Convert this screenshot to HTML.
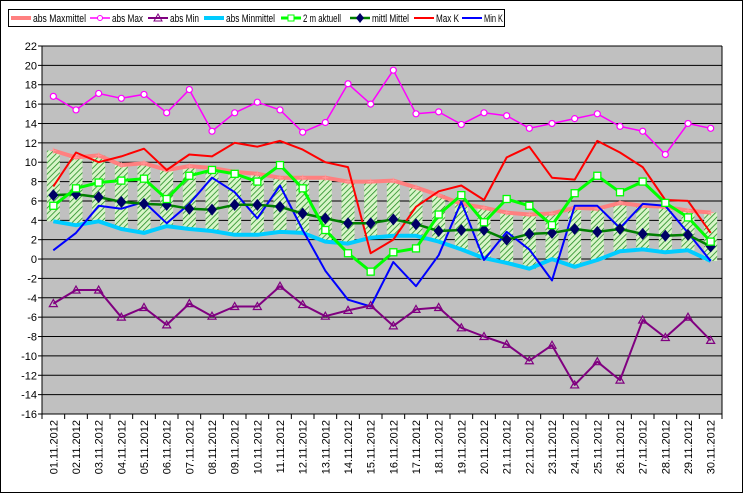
<!DOCTYPE html>
<html><head><meta charset="utf-8"><style>
html,body{margin:0;padding:0;background:#fff;}
svg{display:block;font-family:"Liberation Sans",Arial,sans-serif;}
</style></head><body>
<svg id="chart" width="743" height="493" viewBox="0 0 743 493">
<defs>
<pattern id="hatch" patternUnits="userSpaceOnUse" width="4" height="4" patternTransform="rotate(45)">
<rect width="4" height="4" fill="#d8f5c8"/>
<line x1="0" y1="0" x2="0" y2="4" stroke="#228b22" stroke-width="1.6"/>
</pattern>
</defs>
<rect x="0.5" y="0.5" width="742" height="492" fill="#fff" stroke="#000"/>
<rect x="42" y="46" width="680" height="368" fill="#c0c0c0"/>
<g id="grid"></g>
<g id="bars"></g>
<g id="series"></g>
<g id="axes"></g>
<g id="legend"></g>
</svg>
<script>
const categories = ["01.11.2012","02.11.2012","03.11.2012","04.11.2012","05.11.2012","06.11.2012","07.11.2012","08.11.2012","09.11.2012","10.11.2012","11.11.2012","12.11.2012","13.11.2012","14.11.2012","15.11.2012","16.11.2012","17.11.2012","18.11.2012","19.11.2012","20.11.2012","21.11.2012","22.11.2012","23.11.2012","24.11.2012","25.11.2012","26.11.2012","27.11.2012","28.11.2012","29.11.2012","30.11.2012"];
const absMaxmittel = [11.2,10.5,10.7,9.7,9.9,9.2,9.6,9.4,9.0,8.8,8.4,8.4,8.4,8.0,8.0,8.1,7.4,6.6,5.7,5.3,4.8,4.6,4.7,5.3,5.2,5.8,5.5,5.4,5.0,4.8];
const absMinmittel = [3.9,3.5,3.9,3.1,2.7,3.4,3.1,2.9,2.5,2.5,2.8,2.7,1.8,1.6,2.2,2.4,2.4,1.8,1.0,0.1,-0.4,-1.0,0.0,-0.8,-0.1,0.8,1.0,0.7,0.9,-0.2];
const absMax = [16.8,15.4,17.1,16.6,17.0,15.1,17.5,13.2,15.1,16.2,15.4,13.1,14.1,18.1,16.0,19.5,15.0,15.2,13.9,15.1,14.8,13.5,14.0,14.5,15.0,13.7,13.2,10.8,14.0,13.5];
const absMin = [-4.6,-3.2,-3.2,-6.0,-5.0,-6.8,-4.6,-5.9,-4.9,-4.9,-2.8,-4.7,-5.9,-5.3,-4.8,-6.9,-5.2,-5.0,-7.1,-8.0,-8.8,-10.5,-8.9,-13.0,-10.6,-12.5,-6.3,-8.1,-6.0,-8.4];
const aktuell2m = [5.5,7.3,7.9,8.1,8.3,6.2,8.6,9.2,8.8,8.0,9.7,7.3,3.0,0.6,-1.3,0.7,1.1,4.6,6.6,3.8,6.2,5.5,3.5,6.8,8.6,6.9,8.0,5.8,4.3,1.8];
const mittlMittel = [6.6,6.7,6.4,5.9,5.7,5.6,5.2,5.1,5.6,5.6,5.4,4.7,4.2,3.7,3.7,4.1,3.6,2.9,3.0,3.0,2.0,2.6,2.7,3.1,2.8,3.1,2.6,2.4,2.5,1.3];
const maxK = [7.5,11.0,10.0,10.6,11.4,9.2,10.8,10.6,12.0,11.6,12.2,11.3,10.0,9.5,0.6,2.0,5.4,7.0,7.6,6.1,10.5,11.6,8.4,8.2,12.2,11.0,9.5,6.1,6.0,2.7];
const minK = [0.9,2.7,5.5,5.2,5.9,3.7,5.7,8.4,6.9,4.2,7.6,3.0,-1.2,-4.2,-4.9,-0.3,-2.8,0.4,5.9,-0.1,2.8,1.0,-2.2,5.5,5.5,3.2,5.7,5.5,2.7,-0.2];
const yTicks = [22,20,18,16,14,12,10,8,6,4,2,0,-2,-4,-6,-8,-10,-12,-14,-16];

const NS="http://www.w3.org/2000/svg";
const X0=42,X1=722,Y0=46,Y1=414,YMAX=22,YMIN=-16;
const band=(X1-X0)/categories.length;
function xs(i){return X0+band*(i+0.5);}
function ys(v){return Y0+(YMAX-v)*(Y1-Y0)/(YMAX-YMIN);}
function mk(tag,attrs,parent){const e=document.createElementNS(NS,tag);for(const k in attrs)e.setAttribute(k,attrs[k]);parent.appendChild(e);return e;}
const grid=document.getElementById('grid'),bars=document.getElementById('bars'),series=document.getElementById('series'),axes=document.getElementById('axes'),legend=document.getElementById('legend');

yTicks.forEach(t=>{
  const y=ys(t);
  const l=mk('line',{x1:X0,x2:X1,y1:y,y2:y,stroke:'#000','stroke-width':1},grid);
  
  
  mk('line',{x1:X0-4,x2:X0,y1:y,y2:y,stroke:'#000'},axes);
  const tx=mk('text',{x:X0-5,y:y+4,'text-anchor':'end','font-size':11},axes);
  tx.textContent=t;
  
  
});
mk('line',{x1:X0,x2:X0,y1:Y0,y2:Y1,stroke:'#000'},axes);
mk('line',{x1:X0,x2:X1,y1:Y1,y2:Y1,stroke:'#000'},axes);
mk('line',{x1:X1,x2:X1,y1:Y0,y2:Y1,stroke:'#000'},axes);
categories.forEach((c,i)=>{
  const bx=X0+band*i;
  mk('line',{x1:bx,x2:bx,y1:Y1,y2:Y1+5,stroke:'#000'},axes);
  const x=xs(i)+4,y=Y1+6;
  const tx=mk('text',{x:x,y:y,'text-anchor':'end','font-size':11,transform:`rotate(-90 ${x} ${y})`},axes);
  tx.textContent=c;
  
  
});
mk('line',{x1:X1,x2:X1,y1:Y1,y2:Y1+5,stroke:'#000'},axes);

categories.forEach((c,i)=>{
  const a=ys(absMaxmittel[i]),b=ys(absMinmittel[i]);
  const r=mk('rect',{x:xs(i)-6.5,y:Math.min(a,b),width:13,height:Math.abs(b-a),fill:'url(#hatch)'},bars);
  
  
});

function line(data,color,w,name){
  const pts=data.map((v,i)=>xs(i).toFixed(1)+','+ys(v).toFixed(1)).join(' ');
  const p=mk('polyline',{points:pts,fill:'none',stroke:color,'stroke-width':w,'stroke-linejoin':'round'},series);
  
  
}
function markers(data,kind,name){
  data.forEach((v,i)=>{
    const x=xs(i),y=ys(v);let m;
    if(kind==='circle')m=mk('circle',{cx:x,cy:y,r:3,fill:'#fff',stroke:'#ff00ff','stroke-width':1.2},series);
    else if(kind==='tri')m=mk('polygon',{points:`${x},${y-4} ${x-4},${y+3} ${x+4},${y+3}`,fill:'none',stroke:'#800080','stroke-width':1.2},series);
    else if(kind==='square')m=mk('rect',{x:x-3.5,y:y-3.5,width:7,height:7,fill:'#fff',stroke:'#00ff00','stroke-width':1.3},series);
    else if(kind==='diamond')m=mk('polygon',{points:`${x},${y-6} ${x+5},${y} ${x},${y+6} ${x-5},${y}`,fill:'#000066'},series);
    else if(kind==='plus')m=mk('path',{d:`M${x-3},${y}H${x+3}M${x},${y-3}V${y+3}`,stroke:'#ff9999','stroke-width':1},series);
    
    
  });
}
line(absMaxmittel,'#ff8080',4,'abs-maxmittel-line');
markers(absMaxmittel,'plus','abs-maxmittel-marker');
line(absMinmittel,'#00ccff',4,'abs-minmittel-line');
line(maxK,'#ff0000',2,'max-k-line');
line(minK,'#0000ff',2,'min-k-line');
line(absMin,'#800080',2,'abs-min-line');
markers(absMin,'tri','abs-min-marker');
line(absMax,'#ff00ff',1.5,'abs-max-line');
markers(absMax,'circle','abs-max-marker');
line(mittlMittel,'#008000',2.5,'mittl-mittel-line');
markers(mittlMittel,'diamond','mittl-mittel-marker');
line(aktuell2m,'#00ff00',3,'2m-aktuell-line');
markers(aktuell2m,'square','2m-aktuell-marker');

mk('rect',{x:8.5,y:9.5,width:496,height:17,fill:'#fff',stroke:'#000'},legend);
const leg=[["abs Maxmittel",'#ff8080',4,11,53],["abs Max",'#ff00ff',1.5,90,31],["abs Min",'#800080',2,148,29],["abs Minmittel",'#00ccff',4,204,49],["2 m aktuell",'#00ff00',3,281,38],["mittl Mittel",'#008000',2.5,350,37],["Max K",'#ff0000',2,414,23],["Min K",'#0000ff',2,462,19]];
leg.forEach(e=>{
  const g=mk('g',{},legend);
  
  
  const x=e[3],y=18;
  mk('line',{x1:x,x2:x+20,y1:y,y2:y,stroke:e[1],'stroke-width':e[2]},g);
  const cx=x+10;
  if(e[0]==='abs Max')mk('circle',{cx:cx,cy:y,r:2.5,fill:'#fff',stroke:e[1]},g);
  if(e[0]==='abs Min')mk('polygon',{points:`${cx},${y-4} ${cx-4},${y+3} ${cx+4},${y+3}`,fill:'none',stroke:e[1]},g);
  if(e[0]==='2 m aktuell')mk('rect',{x:cx-3,y:y-3,width:6,height:6,fill:'#fff',stroke:e[1]},g);
  if(e[0]==='mittl Mittel')mk('polygon',{points:`${cx},${y-5} ${cx+4},${y} ${cx},${y+5} ${cx-4},${y}`,fill:'#000066'},g);
  const t=mk('text',{x:x+22,y:y+4,'font-size':11,textLength:e[4],lengthAdjust:'spacingAndGlyphs'},g);
  t.textContent=e[0];
});
</script>
</body></html>
